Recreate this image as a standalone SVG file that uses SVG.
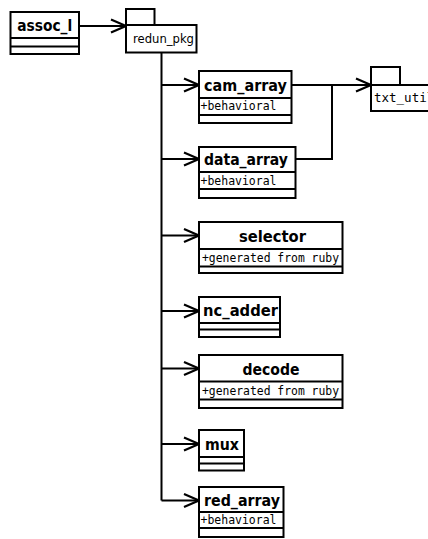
<svg xmlns="http://www.w3.org/2000/svg" width="428" height="539" viewBox="0 0 428 539">
<defs>
<style>
.box{fill:#fff;stroke:#000;stroke-width:2}
.ln{fill:none;stroke:#000;stroke-width:2}
.nm{font-family:"DejaVu Sans",sans-serif;font-weight:bold;font-size:16px;fill:#000;text-anchor:middle}
.at{font-family:"DejaVu Sans Mono",monospace;font-size:12.5px;fill:#000}
.pk{font-family:"DejaVu Sans",sans-serif;font-size:12px;fill:#000}
.pm{font-family:"DejaVu Sans Mono",monospace;font-size:12.5px;fill:#000}
</style>
<marker id="open" viewBox="0 0 17 16" refX="16" refY="8" markerWidth="17" markerHeight="16" markerUnits="userSpaceOnUse" orient="auto">
<path d="M1,1.5 L16,8 L1,14.5" fill="none" stroke="#000" stroke-width="2.2"/>
</marker>
</defs>
<rect width="428" height="539" fill="#fff"/>
<g id="connectors">
<path class="ln" d="M79,26 H126" marker-end="url(#open)"/>
<path class="ln" d="M161.5,52.5 V500.5"/>
<path class="ln" d="M161.5,85 H199" marker-end="url(#open)"/>
<path class="ln" d="M161.5,159 H199" marker-end="url(#open)"/>
<path class="ln" d="M161.5,235.5 H199" marker-end="url(#open)"/>
<path class="ln" d="M161.5,311 H199" marker-end="url(#open)"/>
<path class="ln" d="M161.5,368.5 H199" marker-end="url(#open)"/>
<path class="ln" d="M161.5,444 H199" marker-end="url(#open)"/>
<path class="ln" d="M161.5,500.5 H199" marker-end="url(#open)"/>
<path class="ln" d="M291.5,85 H371" marker-end="url(#open)"/>
<path class="ln" d="M295.5,159 H332 V85"/>
</g>
<g id="assoc_l">
<rect class="box" x="10.5" y="12" width="68.5" height="42"/>
<path class="ln" d="M10.5,38 H79 M10.5,46.5 H79"/>
<text class="nm" x="44.7" y="31" textLength="55" lengthAdjust="spacingAndGlyphs">assoc_l</text>
</g>
<g id="redun_pkg">
<rect class="box" x="126" y="9" width="28.5" height="16"/>
<rect class="box" x="126" y="25" width="70.5" height="27.5"/>
<text class="pk" x="133" y="43" textLength="61" lengthAdjust="spacingAndGlyphs">redun_pkg</text>
</g>
<g id="txt_util">
<rect class="box" x="371" y="67" width="29" height="18"/>
<rect class="box" x="371" y="85" width="70" height="26"/>
<text class="pm" x="374" y="102">txt_util</text>
</g>
<g id="cam_array">
<rect class="box" x="199" y="71" width="92.5" height="52"/>
<path class="ln" d="M199,98 H291.5 M199,115 H291.5"/>
<text class="nm" x="245.5" y="90.5" textLength="83" lengthAdjust="spacingAndGlyphs">cam_array</text>
<text class="at" x="200.5" y="110" textLength="76" lengthAdjust="spacingAndGlyphs">+behavioral</text>
</g>
<g id="data_array">
<rect class="box" x="199" y="147" width="96.5" height="51"/>
<path class="ln" d="M199,172 H295.5 M199,189 H295.5"/>
<text class="nm" x="246" y="165" textLength="84" lengthAdjust="spacingAndGlyphs">data_array</text>
<text class="at" x="200.5" y="184.5" textLength="76" lengthAdjust="spacingAndGlyphs">+behavioral</text>
</g>
<g id="selector">
<rect class="box" x="199" y="222" width="143.5" height="51"/>
<path class="ln" d="M199,249 H342.5 M199,266.5 H342.5"/>
<text class="nm" x="272.5" y="241.5" textLength="67" lengthAdjust="spacingAndGlyphs">selector</text>
<text class="at" x="202" y="262" textLength="137" lengthAdjust="spacingAndGlyphs">+generated from ruby</text>
</g>
<g id="nc_adder">
<rect class="box" x="199" y="297" width="81" height="40"/>
<path class="ln" d="M199,323 H280 M199,329.5 H280"/>
<text class="nm" x="240.5" y="316" textLength="75" lengthAdjust="spacingAndGlyphs">nc_adder</text>
</g>
<g id="decode">
<rect class="box" x="199" y="355" width="143.5" height="53"/>
<path class="ln" d="M199,381.5 H342.5 M199,399.5 H342.5"/>
<text class="nm" x="271" y="374.5" textLength="57" lengthAdjust="spacingAndGlyphs">decode</text>
<text class="at" x="202" y="395" textLength="137" lengthAdjust="spacingAndGlyphs">+generated from ruby</text>
</g>
<g id="mux">
<rect class="box" x="199" y="430" width="45" height="40.5"/>
<path class="ln" d="M199,457 H244 M199,463.5 H244"/>
<text class="nm" x="222" y="449.5" textLength="34" lengthAdjust="spacingAndGlyphs">mux</text>
</g>
<g id="red_array">
<rect class="box" x="199" y="487" width="84.5" height="50"/>
<path class="ln" d="M199,512 H283.5 M199,528 H283.5"/>
<text class="nm" x="242" y="505.5" textLength="76" lengthAdjust="spacingAndGlyphs">red_array</text>
<text class="at" x="200.5" y="523.5" textLength="76" lengthAdjust="spacingAndGlyphs">+behavioral</text>
</g>
</svg>
